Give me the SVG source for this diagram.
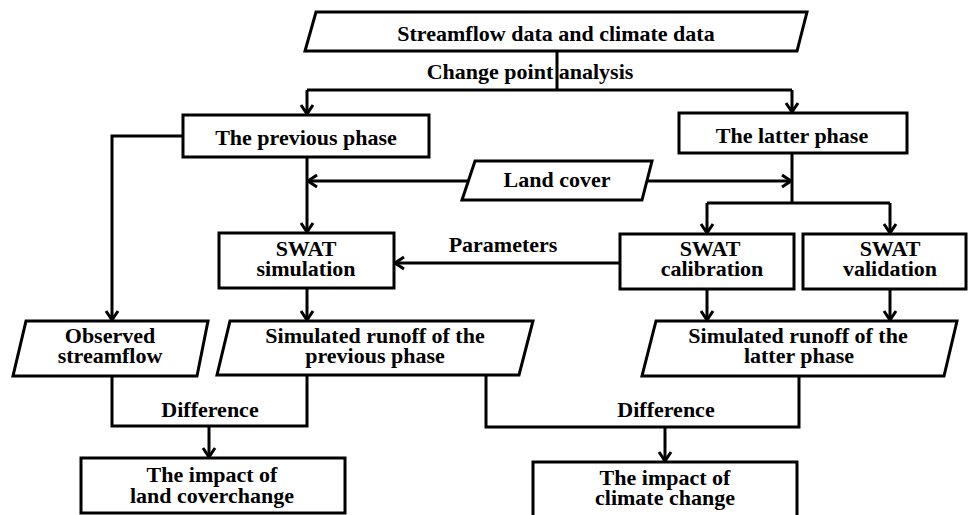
<svg xmlns="http://www.w3.org/2000/svg" width="968" height="515" viewBox="0 0 968 515">
<style>
.s{fill:#fff;stroke:#000;stroke-width:3}
.c{fill:none;stroke:#000;stroke-width:3}
text{font-family:"Liberation Serif","Times New Roman",serif;font-weight:bold;font-size:22px;fill:#000;text-anchor:middle}
</style>
<defs>
<marker id="arr" viewBox="-12 -8 14 16" refX="0" refY="0" markerWidth="14" markerHeight="16" orient="auto" markerUnits="userSpaceOnUse">
<path d="M-9,-6 L0,0 L-9,6" fill="none" stroke="#000" stroke-width="3"/>
</marker>
</defs>
<rect width="968" height="515" fill="#fff"/>
<g id="connectors">
<path class="c" d="M557,51 V90 M307,90 H792"/>
<path class="c" d="M307,90 V114" marker-end="url(#arr)"/>
<path class="c" d="M792,90 V112" marker-end="url(#arr)"/>
<path class="c" d="M307,157 V232" marker-end="url(#arr)"/>
<path class="c" d="M468,181 H308" marker-end="url(#arr)"/>
<path class="c" d="M647,181 H791" marker-end="url(#arr)"/>
<path class="c" d="M792,153 V203 M707,203 H890"/>
<path class="c" d="M707,203 V233" marker-end="url(#arr)"/>
<path class="c" d="M890,203 V233" marker-end="url(#arr)"/>
<path class="c" d="M620,263 H395" marker-end="url(#arr)"/>
<path class="c" d="M183,136 H112 V320" marker-end="url(#arr)"/>
<path class="c" d="M307,288 V320" marker-end="url(#arr)"/>
<path class="c" d="M707,289 V320" marker-end="url(#arr)"/>
<path class="c" d="M890,289 V320" marker-end="url(#arr)"/>
<path class="c" d="M112,376 V426 H307 V375"/>
<path class="c" d="M209,426 V457" marker-end="url(#arr)"/>
<path class="c" d="M486,375 V427 H799 V375"/>
<path class="c" d="M665,427 V461" marker-end="url(#arr)"/>
<text x="530" y="79">Change point analysis</text>
<text x="503" y="252">Parameters</text>
<text x="210" y="417">Difference</text>
<text x="666" y="417">Difference</text>
</g>
<g id="data">
<polygon class="s" points="316,12 807,12 797,51 305,51"/>
<text x="556" y="41">Streamflow data and climate data</text>
</g>
<g id="previous">
<rect class="s" x="183" y="115" width="246" height="42"/>
<text x="306" y="145">The previous phase</text>
</g>
<g id="latter">
<rect class="s" x="679" y="113" width="228" height="40"/>
<text x="792" y="143">The latter phase</text>
</g>
<g id="landcover">
<polygon class="s" points="475,161 652,161 642,200 462,200"/>
<text x="557" y="187">Land cover</text>
</g>
<g id="swatsim">
<rect class="s" x="219" y="233" width="175" height="55"/>
<text x="306" y="256">SWAT</text>
<text x="306" y="276">simulation</text>
</g>
<g id="swatcal">
<rect class="s" x="620" y="234" width="174" height="55"/>
<text x="710" y="256">SWAT</text>
<text x="712" y="276">calibration</text>
</g>
<g id="swatval">
<rect class="s" x="803" y="234" width="163" height="55"/>
<text x="890" y="256">SWAT</text>
<text x="890" y="276">validation</text>
</g>
<g id="observed">
<polygon class="s" points="26,321 208,321 197,376 13,376"/>
<text x="110" y="343">Observed</text>
<text x="110" y="363">streamflow</text>
</g>
<g id="simprev">
<polygon class="s" points="230,321 533,321 519,375 217,375"/>
<text x="375" y="343">Simulated runoff of the</text>
<text x="375" y="363">previous phase</text>
</g>
<g id="simlatter">
<polygon class="s" points="656,321 957,321 944,376 642,376"/>
<text x="798" y="343">Simulated runoff of the</text>
<text x="799" y="363">latter phase</text>
</g>
<g id="impactland">
<rect class="s" x="81" y="458" width="264" height="55"/>
<text x="212" y="482">The impact of</text>
<text x="212" y="503">land coverchange</text>
</g>
<g id="impactclimate">
<rect class="s" x="533" y="462" width="264" height="60"/>
<text x="665" y="485">The impact of</text>
<text x="665" y="505">climate change</text>
</g>
</svg>
